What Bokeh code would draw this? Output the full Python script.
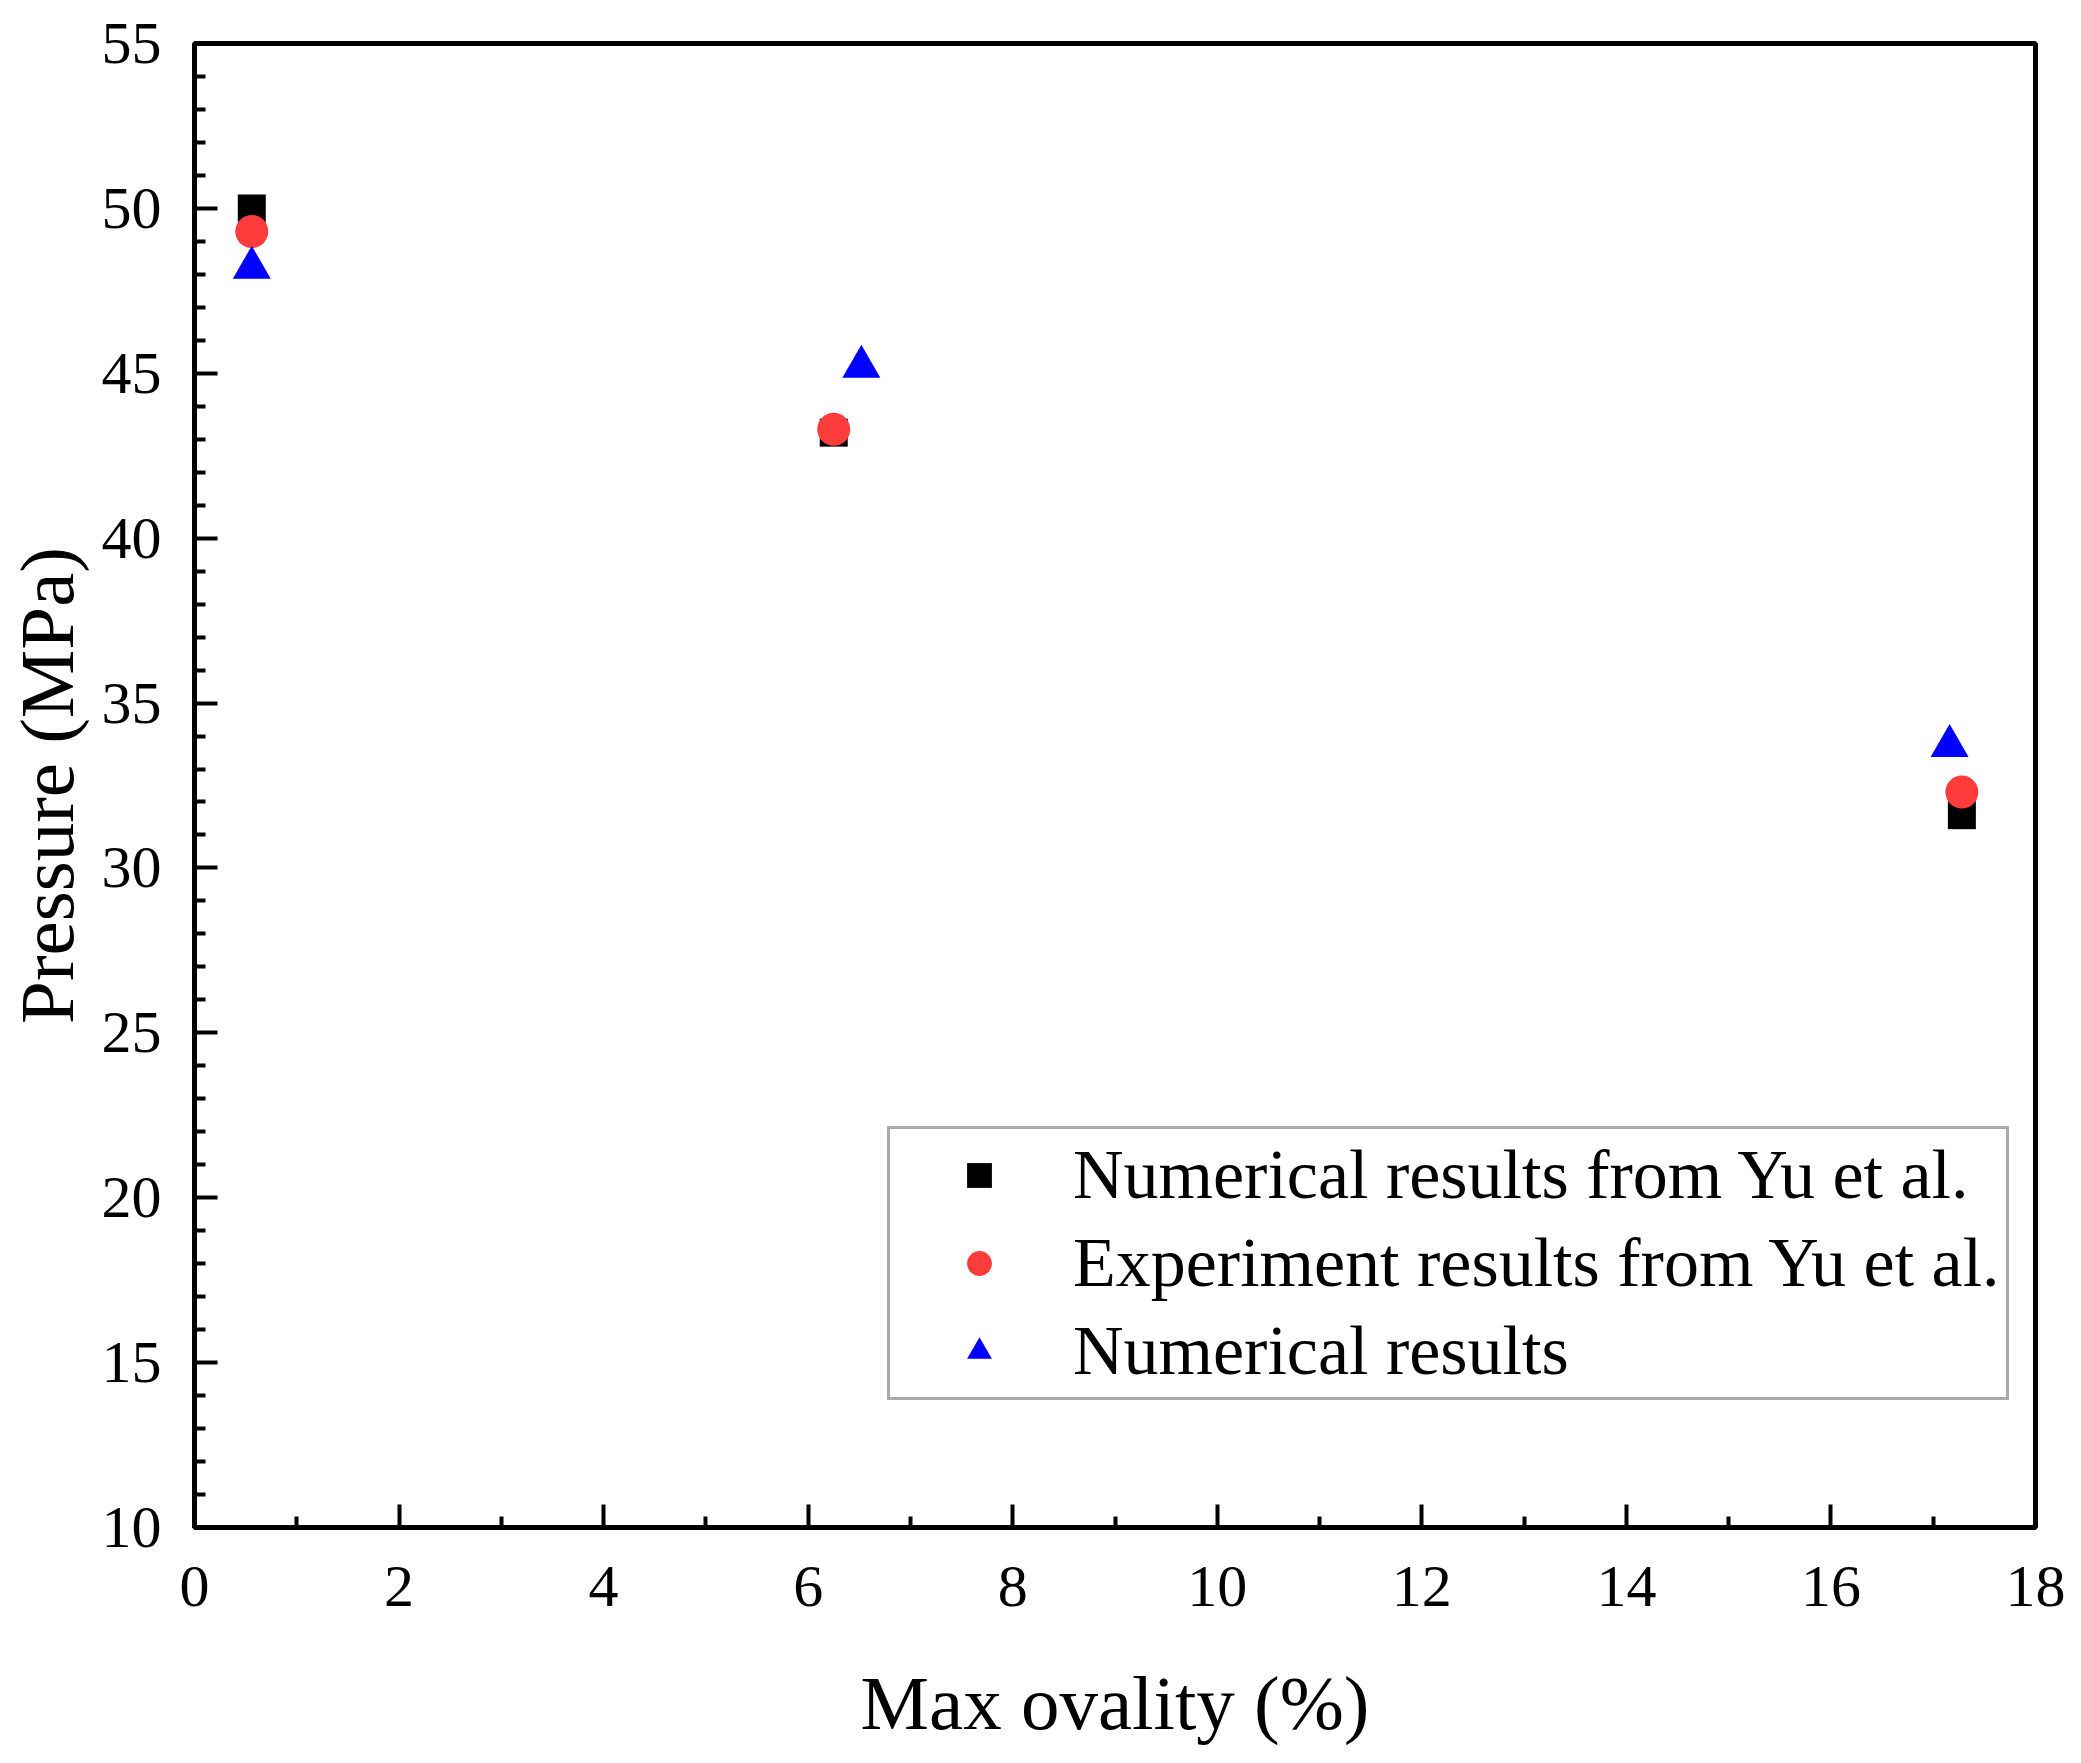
from bokeh.plotting import figure
from bokeh.models import FixedTicker, Range1d
from bokeh.embed import file_html
from bokeh.resources import INLINE

# data
ovality_yu_num = [0.56, 6.25, 17.28]
pressure_yu_num = [50.0, 43.2, 31.6]

ovality_yu_exp = [0.56, 6.25, 17.28]
pressure_yu_exp = [49.3, 43.3, 32.3]

ovality_num = [0.56, 6.52, 17.16]
pressure_num = [48.2, 45.2, 33.7]

x_ticks = [0, 2, 4, 6, 8, 10, 12, 14, 16, 18]
x_minor = [1, 3, 5, 7, 9, 11, 13, 15, 17]
y_ticks = [10, 15, 20, 25, 30, 35, 40, 45, 50, 55]
y_minor = [v for v in range(10, 56) if v % 5 != 0]

FONT = "Liberation Serif"

p = figure(width=2081, height=1763, output_backend="svg", toolbar_location=None,
           x_range=Range1d(0, 18), y_range=Range1d(10, 55))
p.min_border_left = 193
p.min_border_right = 46
p.min_border_top = 43
p.min_border_bottom = 236
p.background_fill_color = "white"
p.border_fill_color = "white"
p.grid.visible = False
p.outline_line_color = "black"
p.outline_line_width = 5
p.outline_line_alpha = 1

p.scatter(ovality_yu_num, pressure_yu_num, marker="square", size=28,
          fill_color="black", line_color=None, legend_label="Numerical results from Yu et al.")
p.scatter(ovality_yu_exp, pressure_yu_exp, marker="circle", size=33,
          fill_color="#FF3C3C", line_color=None, legend_label="Experiment results from Yu et al.")
p.scatter(ovality_num, pressure_num, marker="triangle", size=38,
          fill_color="#0000FF", line_color=None, legend_label="Numerical results")

p.xaxis.ticker = FixedTicker(ticks=x_ticks, minor_ticks=x_minor)
p.yaxis.ticker = FixedTicker(ticks=y_ticks, minor_ticks=y_minor)
p.xaxis.axis_label = "Max ovality (%)"
p.yaxis.axis_label = "Pressure (MPa)"

for ax in (p.xaxis, p.yaxis):
    ax.axis_line_width = 5
    ax.axis_line_color = "black"
    ax.major_tick_line_width = 4
    ax.minor_tick_line_width = 4
    ax.major_tick_line_color = "black"
    ax.minor_tick_line_color = "black"
    ax.major_tick_in = 23
    ax.major_tick_out = 0
    ax.minor_tick_in = 11
    ax.minor_tick_out = 0
    ax.major_label_text_font = FONT
    ax.major_label_text_font_size = "60px"
    ax.major_label_text_color = "black"
    ax.axis_label_text_font = FONT
    ax.axis_label_text_font_size = "77px"
    ax.axis_label_text_font_style = "normal"
    ax.axis_label_text_color = "black"

p.xaxis.major_label_standoff = 39
p.xaxis.axis_label_standoff = 51
p.yaxis.major_label_standoff = 33
p.yaxis.axis_label_standoff = 9

lg = p.legend[0]
lg.location = (693, 127)
lg.label_text_font = FONT
lg.label_text_font_size = "70px"
lg.label_text_color = "black"
lg.glyph_width = 166
lg.glyph_height = 62
lg.label_height = 62
lg.label_standoff = 11
lg.spacing = 8
lg.padding = 6
lg.margin = 0
lg.border_line_color = "#555555"
lg.border_line_width = 3
lg.background_fill_color = "white"
lg.background_fill_alpha = 1

open("out.html", "w").write(file_html(p, INLINE))
